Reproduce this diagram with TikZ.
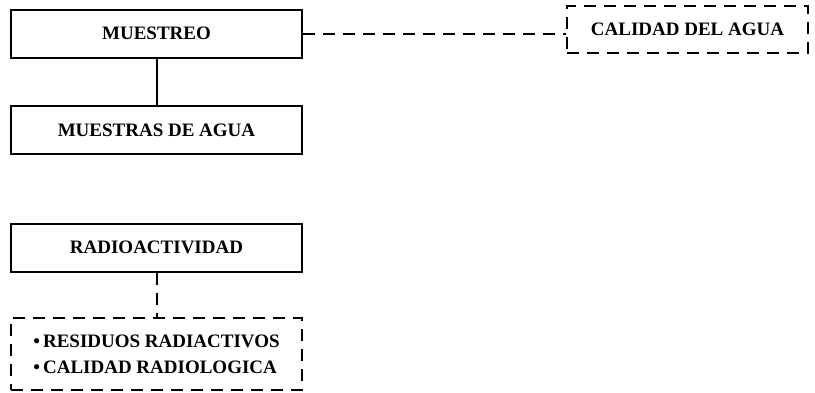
\documentclass[tikz,border=0pt]{standalone}
\usepackage{fontspec}
\setmainfont{Liberation Serif}
\usepackage{tikz}
\usetikzlibrary{positioning}
\tikzset{
  box/.style={rectangle, draw=black, line width=2pt, minimum width=291pt,
    minimum height=48pt, font=\fontsize{19}{23}\selectfont\bfseries, inner sep=0pt},
  dashbox/.style={box, dash pattern=on 12pt off 8pt},
  solidlink/.style={draw=black, line width=2pt},
  dashlink/.style={solidlink, dash pattern=on 12pt off 8pt}
}
\begin{document}
\begin{tikzpicture}[x=1pt, y=-1pt]
  \useasboundingbox (0,0) rectangle (815,392);
  \node[box] (muestreo) at (156.5,33.5) {MUESTREO};
  \node[box] (muestras) at (156.5,130) {MUESTRAS DE AGUA};
  \node[dashbox, minimum width=241pt, minimum height=47pt] (calidad) at (687.5,29.5) {CALIDAD DEL AGUA};
  \node[box] (radio) at (156.5,247.5) {RADIOACTIVIDAD};
  \node[dashbox, minimum height=72pt, align=left] (lista) at (156.5,354)
    {\textbullet\,RESIDUOS RADIACTIVOS\\[3pt] \textbullet\,CALIDAD RADIOLOGICA};

  \draw[solidlink] (muestreo) -- (muestras);
  \draw[dashlink] (muestreo.east) -- (muestreo.east -| calidad.west);
  \draw[dashlink] (radio) -- (lista);
\end{tikzpicture}
\end{document}
